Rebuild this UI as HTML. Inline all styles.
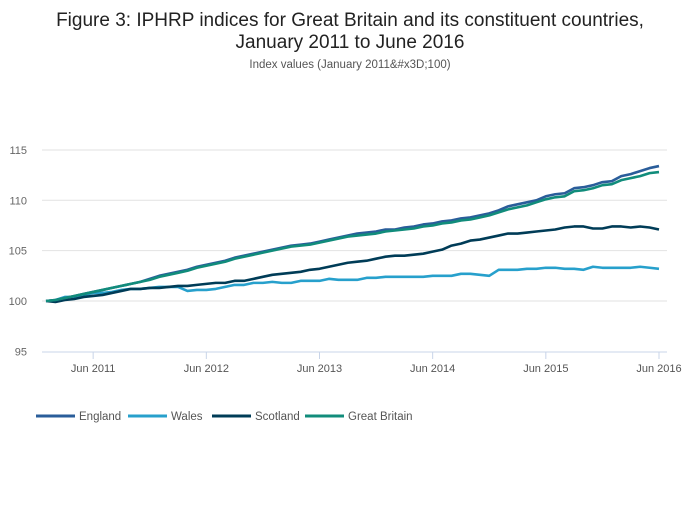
<!DOCTYPE html>
<html><head><meta charset="utf-8"><style>
body{margin:0;background:#fff;width:700px;height:502px;overflow:hidden;font-family:"Liberation Sans",sans-serif}
svg text{font-family:"Liberation Sans",sans-serif}
</style></head><body>
<svg id="chart" width="700" height="502" xmlns="http://www.w3.org/2000/svg">
<text x="350" y="26" text-anchor="middle" font-size="19" fill="#222">Figure 3: IPHRP indices for Great Britain and its constituent countries,</text>
<text x="350" y="48" text-anchor="middle" font-size="19" fill="#222">January 2011 to June 2016</text>
<text x="350" y="68" text-anchor="middle" font-size="11.5" fill="#555">Index values (January 2011&amp;#x3D;100)</text>
<g id="grid"></g><g id="axes"></g><g id="series"></g><g id="legend"></g>
</svg>
<script>
const yTicks=[95,100,105,110,115];
const xTickMonths=[5,17,29,41,53,65];
const xTickLabels=["Jun 2011","Jun 2012","Jun 2013","Jun 2014","Jun 2015","Jun 2016"];
const seriesNames=["England","Wales","Scotland","Great Britain"];
const england=[100.0,100.1,100.3,100.5,100.7,100.9,101.1,101.3,101.5,101.7,101.9,102.2,
102.5,102.7,102.9,103.1,103.4,103.6,103.8,104.0,104.3,104.5,104.7,104.9,
105.1,105.3,105.5,105.6,105.7,105.9,106.1,106.3,106.5,106.7,106.8,106.9,
107.1,107.1,107.3,107.4,107.6,107.7,107.9,108.0,108.2,108.3,108.5,108.7,
109.0,109.4,109.6,109.8,110.0,110.4,110.6,110.7,111.2,111.3,111.5,111.8,
111.9,112.4,112.6,112.9,113.2,113.4];
const wales=[100.0,100.1,100.4,100.4,100.6,100.8,100.8,100.9,101.1,101.2,101.2,101.3,
101.4,101.4,101.4,101.0,101.1,101.1,101.2,101.4,101.6,101.6,101.8,101.8,
101.9,101.8,101.8,102.0,102.0,102.0,102.2,102.1,102.1,102.1,102.3,102.3,
102.4,102.4,102.4,102.4,102.4,102.5,102.5,102.5,102.7,102.7,102.6,102.5,
103.1,103.1,103.1,103.2,103.2,103.3,103.3,103.2,103.2,103.1,103.4,103.3,
103.3,103.3,103.3,103.4,103.3,103.2];
const scotland=[100.0,99.9,100.1,100.2,100.4,100.5,100.6,100.8,101.0,101.2,101.2,101.3,
101.3,101.4,101.5,101.5,101.6,101.7,101.8,101.8,102.0,102.0,102.2,102.4,
102.6,102.7,102.8,102.9,103.1,103.2,103.4,103.6,103.8,103.9,104.0,104.2,
104.4,104.5,104.5,104.6,104.7,104.9,105.1,105.5,105.7,106.0,106.1,106.3,
106.5,106.7,106.7,106.8,106.9,107.0,107.1,107.3,107.4,107.4,107.2,107.2,
107.4,107.4,107.3,107.4,107.3,107.1];
const greatBritain=[100.0,100.1,100.3,100.5,100.7,100.9,101.1,101.3,101.5,101.7,101.9,102.1,
102.4,102.6,102.8,103.0,103.3,103.5,103.7,103.9,104.2,104.4,104.6,104.8,
105.0,105.2,105.4,105.5,105.6,105.8,106.0,106.2,106.4,106.5,106.6,106.7,
106.9,107.0,107.1,107.2,107.4,107.5,107.7,107.8,108.0,108.1,108.3,108.5,
108.8,109.1,109.3,109.5,109.8,110.1,110.3,110.4,110.9,111.0,111.2,111.5,
111.6,112.0,112.2,112.4,112.7,112.8];
const colors=["#2a5d9a","#27a0cc","#003c57","#118c7b"];
const data=[england,wales,scotland,greatBritain];
const NS="http://www.w3.org/2000/svg";
const x=m=>46+m*(613/65);
const y=v=>301-(v-100)*10.07;
function mk(t,a,p){const e=document.createElementNS(NS,t);for(const k in a)e.setAttribute(k,a[k]);p.appendChild(e);return e;}
const grid=document.getElementById('grid'),axes=document.getElementById('axes'),ser=document.getElementById('series'),leg=document.getElementById('legend');
yTicks.forEach(v=>{
  if(v>95){const l=mk('line',{x1:42,x2:667,y1:y(v),y2:y(v),stroke:'#e2e2e2','stroke-width':1},grid);
  
  }
  const t=mk('text',{x:27,y:y(v)+4,'font-size':11,fill:'#666','text-anchor':'end'},axes);t.textContent=v;
  
  
});
const base=mk('line',{x1:42,x2:667,y1:352,y2:352,stroke:'#c8d4e8','stroke-width':1},axes);


xTickMonths.forEach((m,i)=>{
  const tk=mk('line',{x1:x(m),x2:x(m),y1:352,y2:359,stroke:'#c8d4e8'},axes);
  
  
  const t=mk('text',{x:x(m),y:372,'font-size':11,fill:'#555','text-anchor':'middle'},axes);t.textContent=xTickLabels[i];
  
  
});
const order=[1,2,0,3];
order.forEach(i=>{
  const p=mk('polyline',{points:data[i].map((v,m)=>x(m)+','+y(v)).join(' '),fill:'none',stroke:colors[i],'stroke-width':2.6,'stroke-linejoin':'round'},ser);
  
  
});
const lx=[36,128,212,305];
seriesNames.forEach((n,i)=>{
  const g=mk('g',{},leg);
  
  
  mk('line',{x1:lx[i],x2:lx[i]+39,y1:416,y2:416,stroke:colors[i],'stroke-width':3},g);
  const t=mk('text',{x:lx[i]+43,y:420,'font-size':11.5,fill:'#555'},g);t.textContent=n;
});
</script>
</body></html>
